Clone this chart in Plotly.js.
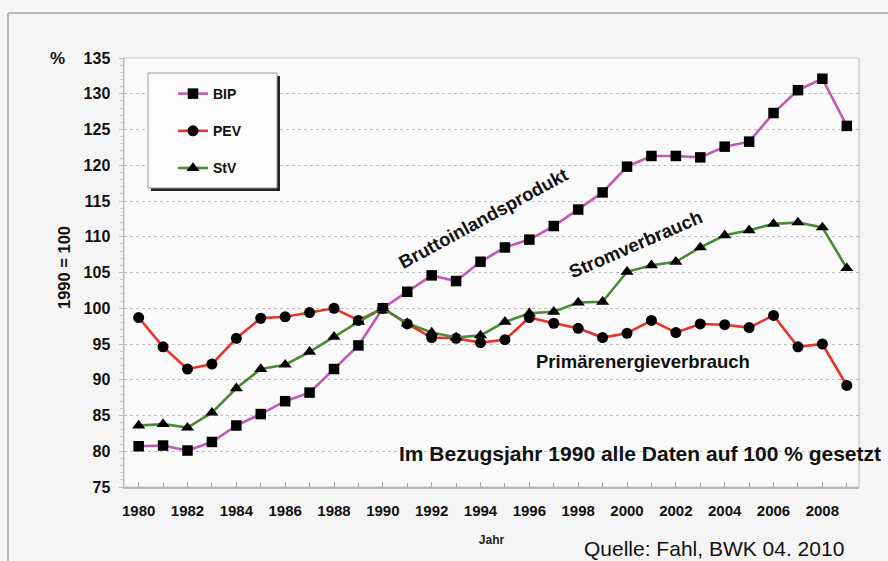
<!DOCTYPE html>
<html>
<head>
<meta charset="utf-8">
<script src="https://cdn.plot.ly/plotly-3.0.1.min.js"></script>
<style>
html,body{margin:0;padding:0;background:#f5f5f5;}
#chart{width:888px;height:561px;}
</style>
</head>
<body>
<div id="chart"></div>
<script>
const years = [1980,1981,1982,1983,1984,1985,1986,1987,1988,1989,1990,1991,1992,1993,1994,1995,1996,1997,1998,1999,2000,2001,2002,2003,2004,2005,2006,2007,2008,2009];
const bip = [80.7,80.8,80.1,81.3,83.6,85.2,87.0,88.2,91.5,94.8,100,102.3,104.6,103.8,106.5,108.5,109.6,111.5,113.8,116.2,119.8,121.3,121.3,121.1,122.6,123.3,127.3,130.5,132.1,125.5];
const pev = [98.7,94.6,91.5,92.2,95.8,98.6,98.8,99.4,100.0,98.3,100,97.8,95.9,95.8,95.2,95.6,98.7,97.9,97.2,95.9,96.5,98.3,96.6,97.8,97.7,97.3,99.0,94.6,95.0,89.2];
const stv = [83.6,83.8,83.3,85.4,88.8,91.5,92.1,93.9,96.0,98.1,100,97.9,96.6,95.9,96.2,98.1,99.3,99.5,100.8,100.9,105.1,106.0,106.5,108.5,110.2,110.9,111.8,112.0,111.3,105.6];
const seriesNames = ["BIP","PEV","StV"];
const xTickVals = [1980,1982,1984,1986,1988,1990,1992,1994,1996,1998,2000,2002,2004,2006,2008];
const yTickVals = [75,80,85,90,95,100,105,110,115,120,125,130,135];

const FONT = "Liberation Sans, Arial, sans-serif";
const bold = (s) => "<b>" + s + "</b>";

function trace(y, name, color, symbol, size) {
  return {
    x: years, y: y, name: name, type: "scatter", mode: "lines+markers",
    legendgroup: name,
    line: {color: color, width: 2.6},
    marker: {symbol: symbol, size: size, color: "#000000"},
    cliponaxis: false
  };
}

const data = [
  trace(bip, seriesNames[0], "#c05ab4", "square", 10.5),
  trace(pev, seriesNames[1], "#e8322a", "circle", 11),
  trace(stv, seriesNames[2], "#4a8a34", "triangle-up", 11.5)
];

// paper helpers (plot area: x 124..859, y 58..487)
const px = (v) => (v - 124) / 735;
const py = (v) => (487 - v) / 429;

function note(x, y, text, size, angle, weightBold) {
  return {
    xref: "paper", yref: "paper", x: px(x), y: py(y),
    xanchor: "center", yanchor: "middle",
    text: weightBold ? bold(text) : text,
    textangle: angle || 0, showarrow: false,
    font: {family: FONT, size: size, color: "#111"}
  };
}

const layout = {
  width: 888, height: 561,
  margin: {l: 124, r: 29, t: 58, b: 74},
  paper_bgcolor: "#f5f5f5",
  plot_bgcolor: "#fafafa",
  font: {family: FONT, color: "#111111"},
  showlegend: true,
  legend: {
    x: px(173), y: py(78), xanchor: "left", yanchor: "top",
    bgcolor: "rgba(0,0,0,0)", borderwidth: 0,
    font: {family: FONT, size: 14, color: "#111", weight: "bold"},
    traceorder: "grouped", tracegroupgap: 16,
    itemwidth: 30
  },
  xaxis: {
    range: [1979.4, 2009.5],
    tickvals: xTickVals,
    ticktext: xTickVals.map(v => bold(v)),
    tickfont: {family: FONT, size: 15, color: "#111"},
    ticks: "inside", ticklen: 5, tickcolor: "#aaaaaa",
    ticklabelstandoff: 9,
    minor: {dtick: 1, ticks: "inside", ticklen: 4, tickcolor: "#aaaaaa"},
    showgrid: false, zeroline: false,
    showline: true, linecolor: "#bbbbbb", linewidth: 1.5,
    title: {text: bold("Jahr"), font: {family: FONT, size: 12, color: "#222"}, standoff: 18}
  },
  yaxis: {
    range: [75, 135],
    tickvals: yTickVals,
    ticktext: yTickVals.map(v => bold(v)),
    tickfont: {family: FONT, size: 16, color: "#111"},
    ticks: "outside", ticklen: 4, tickcolor: "#bbbbbb",
    ticklabelstandoff: 5,
    minor: {dtick: 1, ticks: "outside", ticklen: 3, tickcolor: "#cccccc", showgrid: false},
    showgrid: true, gridcolor: "#bdbdbd", griddash: "dot", gridwidth: 1,
    zeroline: false,
    showline: true, linecolor: "#bbbbbb", linewidth: 1.5,
    title: {text: ""}
  },
  shapes: [
    {type: "line", xref: "paper", yref: "paper", x0: px(8), x1: px(888), y0: py(13), y1: py(13), line: {color: "#b5b5b5", width: 2}},
    {type: "line", xref: "paper", yref: "paper", x0: px(8), x1: px(8), y0: py(13), y1: py(561), line: {color: "#b5b5b5", width: 2}},
    {type: "rect", xref: "paper", yref: "paper", x0: 0, x1: 1, y0: 0, y1: 1, line: {color: "#c4c4c4", width: 1.2}, layer: "below"},
    {type: "rect", xref: "paper", yref: "paper", x0: px(151), x1: px(280), y0: py(191), y1: py(76), fillcolor: "#222222", line: {width: 0}, layer: "above"},
    {type: "rect", xref: "paper", yref: "paper", x0: px(148), x1: px(277), y0: py(188), y1: py(73), fillcolor: "#fbfbfb", line: {color: "#9a9a9a", width: 1}, layer: "above"}
  ],
  annotations: [
    note(57, 58, "%", 17, 0, true),
    note(64, 268, "1990 = 100", 16.5, -90, true),
    note(714, 548, "Quelle: Fahl, BWK 04. 2010", 21, 0, false),
    note(640, 453, "Im Bezugsjahr 1990 alle Daten auf 100 % gesetzt", 21, 0, true),
    note(643, 361, "Primärenergieverbrauch", 18.5, 0, true),
    note(483, 219, "Bruttoinlandsprodukt", 18.5, -28.6, true),
    note(635, 244, "Stromverbrauch", 18.5, -23.4, true)
  ]
};

Plotly.newPlot("chart", data, layout, {staticPlot: true, displayModeBar: false});
</script>
</body>
</html>
